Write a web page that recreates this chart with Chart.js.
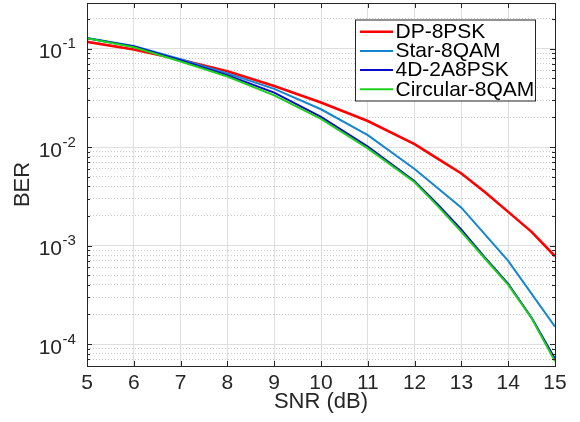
<!DOCTYPE html>
<html>
<head>
<meta charset="utf-8">
<script src="https://cdn.jsdelivr.net/npm/chart.js@4/dist/chart.umd.min.js"></script>
<style>
html,body{margin:0;padding:0;background:#fff;}
canvas{display:block;}
</style>
</head>
<body>
<canvas id="c" width="580" height="422"></canvas>
<script>
// ---- data ----
const seriesNames = ['DP-8PSK', 'Star-8QAM', '4D-2A8PSK', 'Circular-8QAM'];
const seriesColors = ['#ff0000', '#1585d0', '#0a0ac8', '#1ed01e'];
const snrFine = [5, 6, 7, 8, 9, 10, 11, 12, 12.5, 13, 13.5, 14, 14.5, 15];
const snrInt = [5, 6, 7, 8, 9, 10, 11, 12, 13, 14, 15];
const berDP8PSK = [0.117, 0.098, 0.077, 0.059, 0.0417, 0.0283, 0.0184, 0.0107, 0.0076, 0.0054, 0.0035, 0.0022, 0.00138, 0.00078];
const berStar8QAM = [0.128, 0.106, 0.078, 0.056, 0.039, 0.0242, 0.0132, 0.0060, 0.00243, 0.0007, 0.00015];
const ber4D2A8PSK = [0.127, 0.105, 0.076, 0.0536, 0.0357, 0.0203, 0.0101, 0.0045, 0.0026, 0.00145, 0.00076, 0.00041, 0.000185, 0.000071];
const berCirc8QAM = [0.127, 0.103, 0.074, 0.052, 0.0335, 0.0193, 0.0097, 0.0044, 0.0025, 0.00138, 0.00074, 0.00040, 0.000183, 0.000067];
const xTicks = [5, 6, 7, 8, 9, 10, 11, 12, 13, 14, 15];
const yDecades = [1e-1, 1e-2, 1e-3, 1e-4];
const yDecadeExponents = ['-1', '-2', '-3', '-4'];
const xTitle = 'SNR (dB)';
const yTitle = 'BER';

const FONT = '"Liberation Sans", Arial, Helvetica, sans-serif';
const AX = '#262626';

function pts(xs, ys) { return xs.map((x, i) => ({x: x, y: ys[i]})); }
function isDecade(v) { const l = Math.log10(v); return Math.abs(l - Math.round(l)) < 1e-9; }

const seriesData = [pts(snrFine, berDP8PSK), pts(snrInt, berStar8QAM), pts(snrFine, ber4D2A8PSK), pts(snrFine, berCirc8QAM)];
const widths = [2.6, 2, 2, 2];

const frame = {
  id: 'frame',
  afterDraw(chart) {
    const ctx = chart.ctx, a = chart.chartArea;
    const xs = chart.scales.x, ys = chart.scales.y;
    ctx.save();
    ctx.strokeStyle = AX;
    ctx.lineWidth = 1;
    ctx.beginPath();
    xTicks.forEach(v => {
      const px = Math.round(xs.getPixelForValue(v)) + 0.5;
      ctx.moveTo(px, a.bottom); ctx.lineTo(px, a.bottom - 5);
      ctx.moveTo(px, a.top); ctx.lineTo(px, a.top + 5);
    });
    ys.ticks.forEach(t => {
      const py = Math.round(ys.getPixelForValue(t.value)) + 0.5;
      const len = isDecade(t.value) ? 5 : 3;
      ctx.moveTo(a.left, py); ctx.lineTo(a.left + len, py);
      ctx.moveTo(a.right, py); ctx.lineTo(a.right - len, py);
    });
    ctx.stroke();
    ctx.strokeRect(Math.round(a.left) + 0.5, Math.round(a.top) + 0.5, Math.round(a.right - a.left), Math.round(a.bottom - a.top));

    // y tick labels with superscript exponents
    ctx.fillStyle = AX;
    yDecades.forEach((v, i) => {
      const py = ys.getPixelForValue(v);
      ctx.font = '21px ' + FONT;
      ctx.textAlign = 'right';
      ctx.textBaseline = 'alphabetic';
      ctx.fillText('10', a.left - 25, py + 9.8);
      ctx.font = '15px ' + FONT;
      ctx.textAlign = 'left';
      ctx.fillText(yDecadeExponents[i], a.left - 24.5, py - 0.5);
    });

    // legend box
    const lx = 355, ly = 19.5, lw = 180, lh = 81;
    ctx.fillStyle = '#ffffff';
    ctx.fillRect(lx, ly, lw, lh);
    ctx.strokeStyle = '#262626';
    ctx.lineWidth = 1;
    ctx.strokeRect(lx + 0.5, ly + 0.5, lw, lh);
    chart.data.datasets.forEach((ds, i) => {
      const ry = 31.7 + i * 19.2;
      ctx.strokeStyle = ds.borderColor;
      ctx.lineWidth = ds.borderWidth;
      ctx.beginPath();
      ctx.moveTo(360, ry); ctx.lineTo(393, ry);
      ctx.stroke();
      ctx.fillStyle = '#000000';
      ctx.font = '21px ' + FONT;
      ctx.textAlign = 'left';
      ctx.textBaseline = 'alphabetic';
      ctx.fillText(ds.label, 395.5, ry + 6.3);
    });
    ctx.restore();
  }
};

new Chart(document.getElementById('c'), {
  type: 'line',
  data: {
    datasets: seriesNames.map((n, i) => ({
      label: n,
      data: seriesData[i],
      borderColor: seriesColors[i],
      backgroundColor: seriesColors[i],
      borderWidth: widths[i],
      pointRadius: 0,
      tension: 0,
      fill: false,
      order: 4 - i
    }))
  },
  options: {
    responsive: false,
    animation: false,
    devicePixelRatio: 1,
    layout: {padding: {left: 0, right: 25, top: 3, bottom: 0}},
    plugins: {legend: {display: false}, tooltip: {enabled: false}},
    scales: {
      x: {
        type: 'linear', min: 5, max: 15,
        afterBuildTicks: s => { s.ticks = xTicks.map(v => ({value: v})); },
        afterFit: s => { s.height = 56; },
        ticks: {autoSkip: false, maxRotation: 0, padding: 5, color: AX, font: {family: FONT, size: 21}},
        grid: {color: '#dedede', lineWidth: 1, drawTicks: false},
        border: {display: false},
        title: {display: true, text: xTitle, color: AX, font: {family: FONT, size: 22, lineHeight: 1}, padding: {top: 0, bottom: 9.5}}
      },
      y: {
        type: 'logarithmic', min: 6e-5, max: 0.29,
        afterBuildTicks: s => {
          const t = [];
          for (let e = -5; e <= 0; e++) for (let m = 1; m <= 9; m++) {
            const v = m * Math.pow(10, e);
            if (v >= s.min && v <= s.max) t.push({value: v, major: m === 1});
          }
          s.ticks = t;
        },
        afterFit: s => { s.width = 87; },
        ticks: {display: false},
        grid: {
          drawTicks: false,
          lineWidth: 1,
          color: c => (c.tick && isDecade(c.tick.value)) ? '#dedede' : '#cbcbcb'
        },
        border: {display: false, dash: c => (c.tick && isDecade(c.tick.value)) ? [] : [1, 2]},
        title: {display: true, text: yTitle, color: AX, font: {family: FONT, size: 22, lineHeight: 1}, padding: {top: 11.5, bottom: 0}}
      }
    }
  },
  plugins: [frame]
});
</script>
</body>
</html>
